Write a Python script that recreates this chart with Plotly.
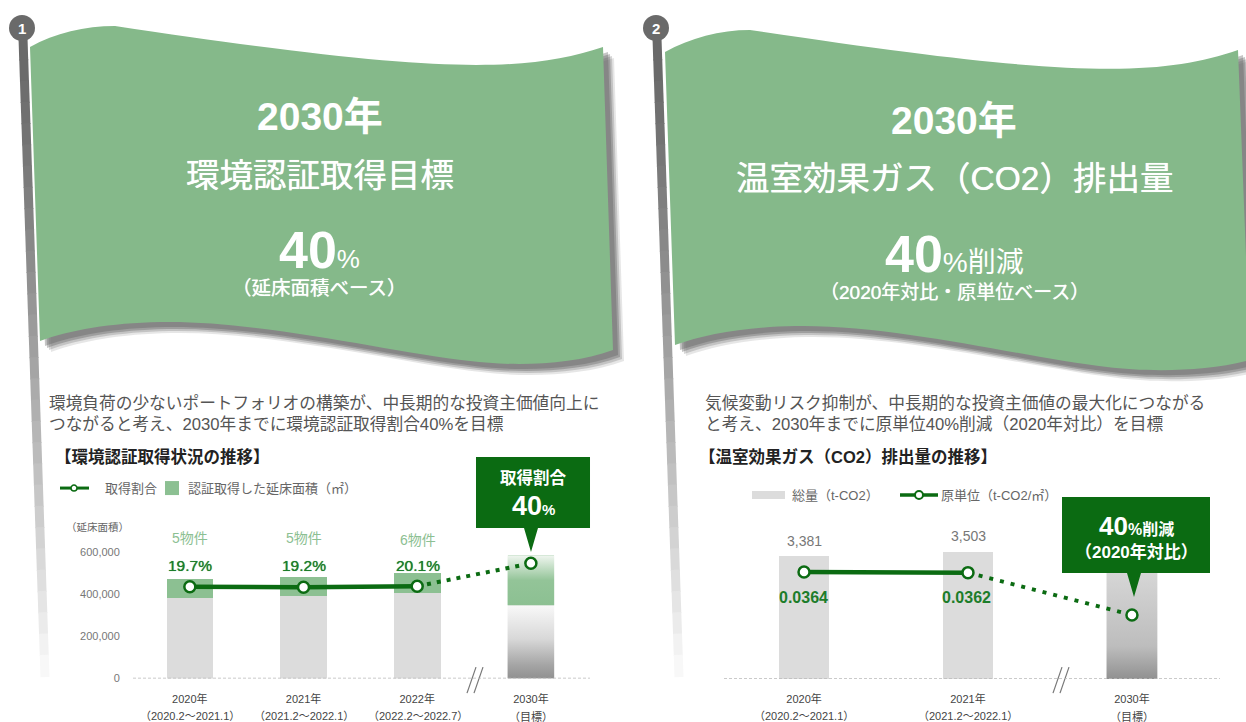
import plotly.graph_objects as go

W, H = 1246, 722

# left chart data
cert_labels = ["2020年", "2021年", "2022年", "2030年"]
cert_periods = ["（2020.2～2021.1）", "（2021.2～2022.1）", "（2022.2～2022.7）", "（目標）"]
cert_other_area = [381000, 391000, 405000, 348000]
cert_green_area = [90000, 91000, 96000, 237000]
cert_ratio = [19.7, 19.2, 20.1, 40]
cert_counts = ["5物件", "5物件", "6物件"]
area_ticks = [0, 200000, 400000, 600000]

# right chart data
co2_labels = ["2020年", "2021年", "2030年"]
co2_periods = ["（2020.2～2021.1）", "（2021.2～2022.1）", "（目標）"]
co2_total = [3381, 3503, 3100]
co2_unit = [0.0364, 0.0362, 0.0218]

FONT = "Liberation Sans, Noto Sans CJK JP, sans-serif"
FLAG = "#85b98a"
DARK = "#0b6b12"
LIGHT_GREEN = "#8cc092"
BAR_GREY = "#dcdcdc"
TEXT_GREY = "#666666"
Y_FIX = 1.0085  # rendered picture came out slightly short, stretch y a bit


def px(x):
    return x / W


def py(y):
    return 1 - y * Y_FIX / H


def path(points):
    # points are given in page pixels, paper coords go in the svg path
    out = []
    for cmd, *vals in points:
        coords = [f"{px(vals[i]):.5f},{py(vals[i + 1]):.5f}" for i in range(0, len(vals), 2)]
        out.append(cmd + " " + " ".join(coords))
    return " ".join(out) + " Z"


def shifted(points, dx, dy):
    res = []
    for cmd, *vals in points:
        res.append([cmd] + [v + (dx if i % 2 == 0 else dy) for i, v in enumerate(vals)])
    return res


flag1 = [
    ["M", 30, 47],
    ["C", 55, 33, 85, 26, 115, 26, 190, 26, 260, 50, 340, 60],
    ["C", 420, 72, 520, 75, 603, 47],
    ["L", 613, 350],
    ["C", 570, 366, 510, 366, 470, 361],
    ["C", 390, 352, 260, 320, 160, 322],
    ["C", 110, 323, 70, 330, 40, 341],
]
flag2 = [
    ["M", 665, 52],
    ["C", 690, 38, 720, 30, 750, 30, 825, 30, 895, 54, 975, 64],
    ["C", 1055, 76, 1155, 79, 1238, 50],
    ["L", 1250, 360],
    ["C", 1207, 372, 1147, 372, 1107, 367],
    ["C", 1027, 358, 895, 324, 795, 326],
    ["C", 745, 327, 705, 334, 675, 345],
]

shapes = []
annotations = []


def label(x, y, text, size, color=TEXT_GREY, bold=False, anchor="center", heavy=False):
    if bold:
        text = f"<b>{text}</b>"
    font = dict(size=size, color=color, family=FONT)
    if heavy:
        font["shadow"] = f"0 0 0.7px {color}"
    annotations.append(dict(x=px(x), y=py(y), xref="paper", yref="paper", text=text, showarrow=False,
                            xanchor=anchor, yanchor="middle", font=font))


def pole(x0, x1, y0=38, y1=676, steps=30):
    # flag pole fades out towards the bottom
    for i in range(steps):
        t = i / steps
        g = int(105 + 150 * t ** 1.3)
        ya, yb = y0 + (y1 - y0) * t, y0 + (y1 - y0) * (t + 1 / steps) + 1
        xa, xb = x0 + (x1 - x0) * t, x0 + (x1 - x0) * (t + 1 / steps)
        shapes.append(dict(type="line", xref="paper", yref="paper", layer="below",
                           x0=px(xa), x1=px(xb), y0=py(ya), y1=py(yb),
                           line=dict(color=f"rgb({g},{g},{g})", width=9)))


def flag(points, cx, cy, num):
    for dx, dy, op in [(11, 11, 0.15), (9, 9, 0.25), (7, 7, 0.35), (5, 5, 0.35)]:
        shapes.append(dict(type="path", xref="paper", yref="paper", layer="below", path=path(shifted(points, dx, dy)),
                           fillcolor=f"rgba(90,90,90,{op})", line_width=0))
    shapes.append(dict(type="path", xref="paper", yref="paper", layer="below", path=path(points),
                       fillcolor=FLAG, line_width=0))
    shapes.append(dict(type="circle", xref="paper", yref="paper", layer="below",
                       x0=px(cx - 13), x1=px(cx + 13), y0=py(cy - 13), y1=py(cy + 13),
                       fillcolor="#6a6a6a", line_width=0))
    label(cx, cy, num, 15, "white", True)


def callout(x0, x1, y0, y1, tip_x, tip_y, half):
    pts = [["M", x0, y0], ["L", x1, y0], ["L", x1, y1], ["L", tip_x + half, y1], ["L", tip_x, tip_y],
           ["L", tip_x - half, y1], ["L", x0, y1]]
    shapes.append(dict(type="path", xref="paper", yref="paper", layer="above", path=path(pts),
                       fillcolor=DARK, line_width=0))


def break_mark(x, y0=667, y1=693):
    for off in (0, 7):
        shapes.append(dict(type="line", xref="paper", yref="paper", x0=px(x + off - 5), x1=px(x + off + 4),
                           y0=py(y1), y1=py(y0), line=dict(color="#777777", width=1.2)))


def bottom_dom(y_bot, y_top):
    return [py(y_bot), py(y_top)]


pole(23, 45)
pole(657, 679)
flag(flag1, 22, 28, "1")
flag(flag2, 656, 28, "2")

# flag texts
label(320, 116, "2030年", 39, "white", True)
label(320, 175, "環境認証取得目標", 33.5, "white", heavy=True)
label(320, 250, '<b>40</b><span style="font-size:26px">%</span>', 52, "white")
label(320, 288, "（延床面積ベース）", 19.5, "white", heavy=True)

label(954, 120, "2030年", 39, "white", True)
label(954, 178, "温室効果ガス（CO2）排出量", 33.5, "white", heavy=True)
label(954, 254, '<b>40</b><span style="font-size:28px">%削減</span>', 52, "white")
label(954, 292, "（2020年対比・原単位ベース）", 19, "white", heavy=True)

# paragraphs
label(47, 403, "環境負荷の少ないポートフォリオの構築が、中長期的な投資主価値向上に", 16.7, "#555555", anchor="left")
label(47, 424, "つながると考え、2030年までに環境認証取得割合40%を目標", 16.7, "#555555", anchor="left")
label(703, 403, "気候変動リスク抑制が、中長期的な投資主価値の最大化につながる", 16.7, "#555555", anchor="left")
label(703, 424, "と考え、2030年までに原単位40%削減（2020年対比）を目標", 16.7, "#555555", anchor="left")

# chart titles
label(53, 457, "【環境認証取得状況の推移】", 16.5, "#222222", True, "left")
label(697, 457, "【温室効果ガス（CO2）排出量の推移】", 16.5, "#222222", True, "left")

# legends
shapes.append(dict(type="line", xref="paper", yref="paper", x0=px(60), x1=px(89), y0=py(488), y1=py(488),
                   line=dict(color=DARK, width=3)))
shapes.append(dict(type="circle", xref="paper", yref="paper", x0=px(71), x1=px(77), y0=py(491), y1=py(485),
                   fillcolor="white", line=dict(color=DARK, width=1.5)))
label(103, 488, "取得割合", 13, anchor="left")
shapes.append(dict(type="rect", xref="paper", yref="paper", x0=px(165), x1=px(179), y0=py(495), y1=py(481),
                   fillcolor=LIGHT_GREEN, line_width=0))
label(186, 488, "認証取得した延床面積（㎡）", 13, anchor="left")

shapes.append(dict(type="rect", xref="paper", yref="paper", x0=px(752), x1=px(785), y0=py(499), y1=py(491),
                   fillcolor=BAR_GREY, line_width=0))
label(790, 495, "総量（t-CO2）", 13, anchor="left")
shapes.append(dict(type="line", xref="paper", yref="paper", x0=px(900), x1=px(938), y0=py(495), y1=py(495),
                   line=dict(color=DARK, width=3.5)))
shapes.append(dict(type="circle", xref="paper", yref="paper", x0=px(915), x1=px(923), y0=py(499), y1=py(491),
                   fillcolor="white", line=dict(color=DARK, width=2)))
label(939, 495, "原単位（t-CO2/㎡）", 13, anchor="left")

# chart annotations
label(97, 527, "（延床面積）", 10.5)
for i, c in enumerate(cert_counts):
    label([190, 304, 418][i], [538, 538, 540][i], c, 14, LIGHT_GREEN)
for i, v in enumerate(cert_ratio[:3]):
    label([190, 304, 418][i], 565, f"{v}%", 15.5, "#1c7d2a", heavy=True)
for i, p in enumerate(cert_periods):
    label([190, 304, 418, 531][i], 716, p, 11, "#444444")
for i, v in enumerate(co2_total[:2]):
    label([804, 968][i], [541, 536][i], f"{v:,}", 14, "#777777")
for i, v in enumerate(co2_unit[:2]):
    label([803, 967][i], 597, f"{v:.4f}", 16, "#1c7d2a", True)
for i, p in enumerate(co2_periods):
    label([804, 968, 1132][i], 716, p, 11, "#444444")

# callouts
callout(476, 590, 457, 528, 531, 552, 7)
label(533, 478, "取得割合", 16.5, "white", True)
label(533, 506, f'<b>{cert_ratio[3]}</b><span style="font-size:15px"><b>%</b></span>', 27, "white")
callout(1062, 1210, 497, 573, 1134, 597, 7)
label(1136, 526, '<b>40</b><span style="font-size:16px"><b>%削減</b></span>', 26, "white")
label(1136, 552, "（2020年対比）", 17, "white", True)

break_mark(472)
break_mark(1058)

for xa, ya in [("x", "y"), ("x3", "y3")]:
    shapes.append(dict(type="line", xref=f"{xa} domain", yref=ya, x0=0, x1=1, y0=0, y1=0,
                       line=dict(color="#b9b9b9", width=1.5, dash="3px,2px")))

fig = go.Figure()

# left chart
x_cert = list(range(len(cert_labels)))
fig.add_trace(go.Bar(x=x_cert, y=cert_other_area, width=0.41, marker=dict(color=BAR_GREY, line_width=0),
                     xaxis="x", yaxis="y", showlegend=False))
fig.add_trace(go.Bar(x=x_cert, y=cert_green_area, width=0.41, marker=dict(color=LIGHT_GREEN, line_width=0),
                     xaxis="x", yaxis="y", showlegend=False))

# 2030 bar gets a gradient on top of the plain bar
hw = 0.205
base = cert_other_area[3]
top = base + cert_green_area[3]
fig.add_trace(go.Scatter(x=[3 - hw, 3 + hw, 3 + hw, 3 - hw], y=[0, 0, base, base], mode="none", fill="toself",
                         fillgradient=dict(type="vertical", start=0, stop=base,
                                           colorscale=[[0, "#8f8f8f"], [0.2, "#a5a5a5"], [0.55, "#d8d8d8"], [1, "#f8f8f8"]]),
                         xaxis="x", yaxis="y", showlegend=False))
fig.add_trace(go.Scatter(x=[3 - hw, 3 + hw, 3 + hw, 3 - hw], y=[base, base, top, top], mode="none", fill="toself",
                         fillgradient=dict(type="vertical", start=base, stop=top,
                                           colorscale=[[0, LIGHT_GREEN], [0.5, "#93c498"], [1, "#f0f6f0"]]),
                         xaxis="x", yaxis="y", showlegend=False))

fig.add_trace(go.Scatter(x=x_cert[2:], y=cert_ratio[2:], mode="lines", line=dict(color=DARK, width=4, dash="4px,6px"),
                         xaxis="x", yaxis="y2", showlegend=False))
fig.add_trace(go.Scatter(x=x_cert[:3], y=cert_ratio[:3], mode="lines", line=dict(color=DARK, width=4.5),
                         xaxis="x", yaxis="y2", showlegend=False))
fig.add_trace(go.Scatter(x=x_cert, y=cert_ratio, mode="markers",
                         marker=dict(size=11, color="white", line=dict(color=DARK, width=2.5)),
                         xaxis="x", yaxis="y2", showlegend=False))

# right chart
x_co2 = list(range(len(co2_labels)))
fig.add_trace(go.Bar(x=x_co2, y=co2_total, width=0.31, marker=dict(color=BAR_GREY, line_width=0),
                     xaxis="x3", yaxis="y3", showlegend=False))
hw2 = 0.155
fig.add_trace(go.Scatter(x=[2 - hw2, 2 + hw2, 2 + hw2, 2 - hw2], y=[0, 0, co2_total[2], co2_total[2]], mode="none",
                         fill="toself",
                         fillgradient=dict(type="vertical", start=0, stop=co2_total[2],
                                           colorscale=[[0, "#8f8f8f"], [0.3, "#bdbdbd"], [1, "#d8d8d8"]]),
                         xaxis="x3", yaxis="y3", showlegend=False))
fig.add_trace(go.Scatter(x=x_co2[1:], y=co2_unit[1:], mode="lines", line=dict(color=DARK, width=4, dash="4px,7px"),
                         xaxis="x3", yaxis="y4", showlegend=False))
fig.add_trace(go.Scatter(x=x_co2[:2], y=co2_unit[:2], mode="lines", line=dict(color=DARK, width=4.5),
                         xaxis="x3", yaxis="y4", showlegend=False))
fig.add_trace(go.Scatter(x=x_co2, y=co2_unit, mode="markers",
                         marker=dict(size=11, color="white", line=dict(color=DARK, width=2.5)),
                         xaxis="x3", yaxis="y4", showlegend=False))

tick_font = dict(size=11, color="#444444", family=FONT)
fig.update_layout(
    width=W, height=H,
    margin=dict(l=0, r=0, t=0, b=0),
    paper_bgcolor="white",
    plot_bgcolor="rgba(0,0,0,0)",
    barmode="stack",
    font=dict(family=FONT),
    shapes=shapes,
    annotations=annotations,
    xaxis=dict(domain=[px(133), px(590)], range=[-0.5, 3.52], tickvals=x_cert, ticktext=cert_labels,
               tickfont=tick_font, showgrid=False, zeroline=False, ticks="outside", ticklen=10,
               tickcolor="rgba(0,0,0,0)", anchor="y"),
    yaxis=dict(domain=bottom_dom(678.5, 540), range=[0, 656400], tickvals=area_ticks, tickformat=",",
               tickfont=dict(size=11, color="#777777", family=FONT), showgrid=False, zeroline=False,
               ticks="outside", ticklen=10, tickcolor="rgba(0,0,0,0)", anchor="x"),
    yaxis2=dict(domain=bottom_dom(678.5, 540), range=[-60, 60.2], overlaying="y", visible=False, anchor="x"),
    xaxis3=dict(domain=[px(724), px(1220)], range=[-0.488, 2.537], tickvals=x_co2, ticktext=co2_labels,
                tickfont=tick_font, showgrid=False, zeroline=False, ticks="outside", ticklen=10,
                tickcolor="rgba(0,0,0,0)", anchor="y3"),
    yaxis3=dict(domain=bottom_dom(679, 520), range=[0, 4370], visible=False, anchor="x3"),
    yaxis4=dict(domain=bottom_dom(679, 520), range=[0, 0.05408], overlaying="y3", visible=False, anchor="x3"),
)

# the page's default body margin would push the chart off by 8px
fig.write_html("out.html", config={"displayModeBar": False}, post_script="document.body.style.margin='0';")
